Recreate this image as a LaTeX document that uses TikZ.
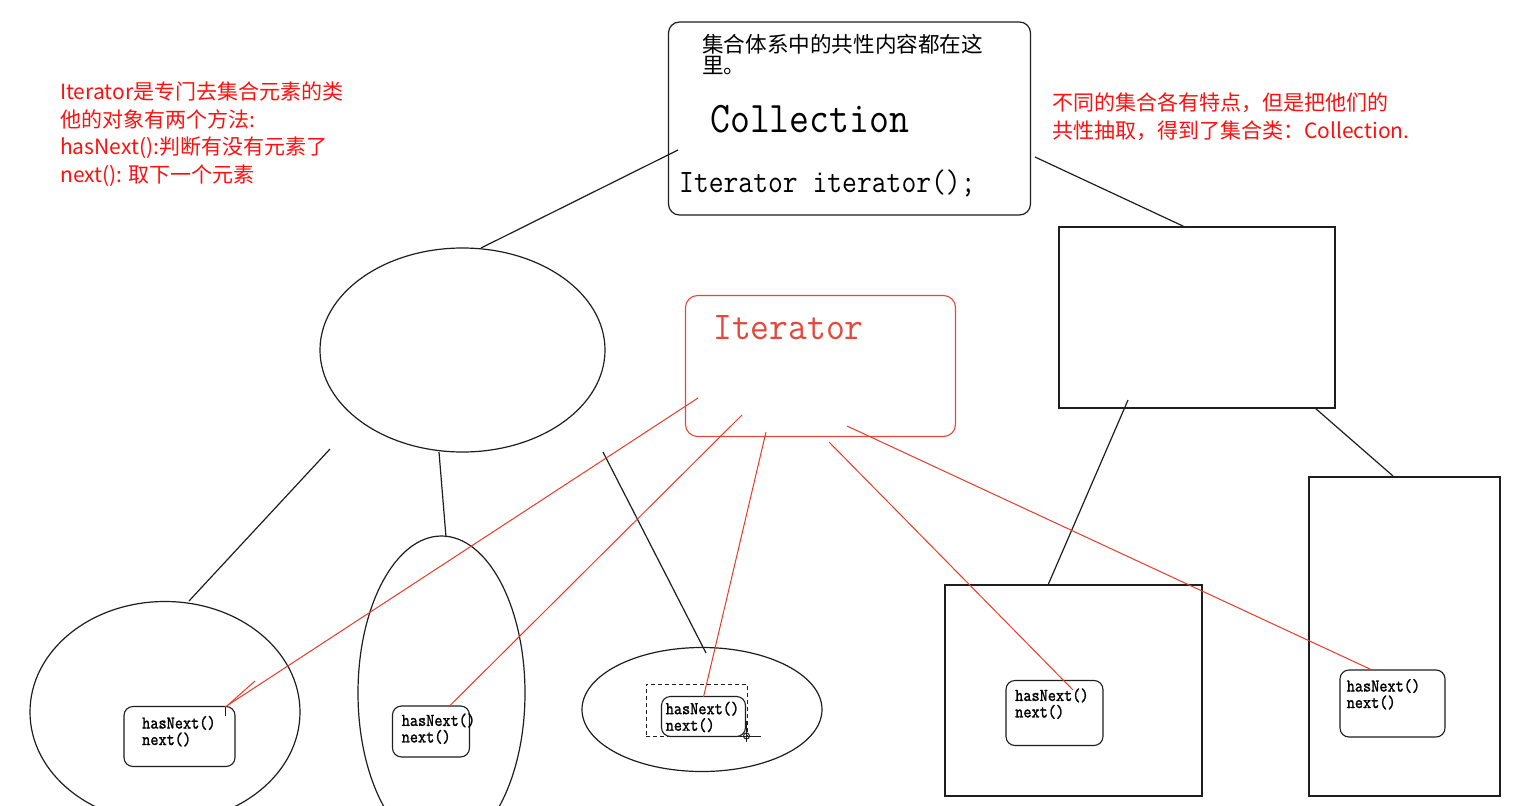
\documentclass[tikz,border=0pt]{standalone}
\usepackage{fontspec}
\usepackage{graphicx}
\newfontfamily\cjk{Noto Sans CJK SC}
\newfontfamily\monob{Latin Modern Mono}[FakeBold=1.5]
\usetikzlibrary{shapes.geometric}
\definecolor{annred}{RGB}{255,16,16}
\definecolor{linered}{RGB}{232,58,40}
\definecolor{boxred}{RGB}{228,72,60}
\definecolor{ink}{RGB}{30,30,30}
\tikzset{
  blk/.style={draw=ink, line width=1.2pt},
  redline/.style={draw=linered, line width=1pt},
  rbox/.style={draw=ink, line width=1.2pt, rounded corners=11pt, inner sep=0pt},
  sqbox/.style={draw=ink, line width=1.2pt, inner sep=0pt},
  ell/.style={ellipse, draw=ink, line width=1.2pt, inner sep=0pt},
  lblbox/.style={draw=ink, line width=1.1pt, rounded corners=9pt, inner sep=0pt},
  lbl/.style={anchor=north west, inner sep=0pt, align=left,
     font={\fontsize{18}{16.5}\selectfont\monob\lineskiplimit=-30pt}},
  ann/.style={anchor=base west, inner sep=0pt, text=annred,
     font={\cjk\fontsize{21}{24}\selectfont}},
  annr/.style={anchor=base west, inner sep=0pt, text=annred,
     font={\cjk\fontsize{21}{24}\selectfont}},
}
\newcommand{\mt}[1]{\scalebox{0.88}[1]{#1}}
\begin{document}
\begin{tikzpicture}[x=1pt,y=-1pt]
\useasboundingbox[fill=white] (0,0) rectangle (1532,806);

% ---- Collection box
\node[rbox, minimum width=362pt, minimum height=193pt] (coll) at (849.5,118.5) {};
\node[anchor=base west, inner sep=0pt, font={\cjk\fontsize{21.6}{21}\selectfont}] (hdr1) at (702,52) {集合体系中的共性内容都在这};
\node[anchor=base west, inner sep=0pt, font={\cjk\fontsize{21.6}{21}\selectfont}] (hdr2) at (702,73) {里。};
\node[anchor=base west, inner sep=0pt, font={\fontsize{43.7}{44}\selectfont\ttfamily}] (colltxt) at (710,132) {\scalebox{0.885}[1]{Collection}};
\node[anchor=base west, inner sep=0pt, font={\fontsize{32.7}{33}\selectfont\ttfamily}] (itm) at (679,192) {\scalebox{0.88}[1]{Iterator iterator();}};

% ---- Iterator box
\node[draw=boxred, line width=1.1pt, rounded corners=12pt, inner sep=0pt, minimum width=270pt, minimum height=141pt] (itbox) at (820.5,366) {};
\node[anchor=base west, inner sep=0pt, text=boxred, font={\fontsize{39.3}{40}\selectfont\ttfamily}] (ittxt) at (713,339) {\scalebox{0.93}[1]{Iterator}};

% ---- annotations
\node[ann] (a1) at (60,99) {Iterator是专门去集合元素的类};
\node[ann] (a2) at (60,127) {他的对象有两个方法:};
\node[ann] (a3) at (60,154) {hasNext():判断有没有元素了};
\node[ann] (a4) at (60,182) {next(): 取下一个元素};
\node[annr] (b1) at (1052,110) {不同的集合各有特点，但是把他们的};
\node[annr] (b2) at (1052,138) {共性抽取，得到了集合类：Collection.};

% ---- shapes
\node[ell, minimum width=285pt, minimum height=204pt] (e1) at (462.5,350) {};
\node[ell, minimum width=270pt, minimum height=221pt] (e2) at (165,712) {};
\node[ell, minimum width=167pt, minimum height=314pt] (e3) at (441.5,693) {};
\node[ell, minimum width=240pt, minimum height=124pt] (e4) at (702,709.5) {};
\node[sqbox, minimum width=276pt, minimum height=181pt] (r1) at (1197,317.5) {};
\node[sqbox, minimum width=257pt, minimum height=211pt] (r2) at (1073.5,690.5) {};
\node[sqbox, minimum width=191pt, minimum height=319pt] (r3) at (1404.5,636.5) {};

% ---- small label boxes
\node[lblbox, minimum width=111pt, minimum height=60pt] (m1) at (179.5,736.5) {};
\node[lbl] (t1) at (142,715.8) {\mt{hasNext()}\\\mt{next()}};
\node[lblbox, minimum width=77pt, minimum height=51pt] (m2) at (431,731.5) {};
\node[lbl] (t2) at (401.5,713.2) {\mt{hasNext()}\\\mt{next()}};
\node[draw=ink, line width=1pt, dashed, dash pattern=on 4pt off 3pt, inner sep=0pt, minimum width=101pt, minimum height=52pt] (dsel) at (696.5,710) {};
\node[lblbox, minimum width=84pt, minimum height=40pt] (m3) at (703.5,716.5) {};
\node[lbl] (t3) at (665.5,701.5) {\mt{hasNext()}\\\mt{next()}};
\node[lblbox, minimum width=97pt, minimum height=65pt] (m4) at (1054.5,713) {};
\node[lbl] (t4) at (1015,688.2) {\mt{hasNext()}\\\mt{next()}};
\node[lblbox, minimum width=105pt, minimum height=67pt] (m5) at (1392.5,703.5) {};
\node[lbl] (t5) at (1346.5,678.8) {\mt{hasNext()}\\\mt{next()}};

% crosshair cursor
\coordinate (cur) at (746.5,736);
\draw[ink, line width=1pt] (cur) circle (3pt);
\draw[ink, line width=1pt] ([xshift=-18pt]cur) -- ([xshift=14pt]cur);
\draw[ink, line width=1pt] ([yshift=-6pt]cur) -- ([yshift=15pt]cur);

% ---- black connectors
\coordinate (c1a) at (678,150); \coordinate (c1b) at (481,248);
\coordinate (c2a) at (1035,157); \coordinate (c2b) at (1185,227);
\coordinate (c3a) at (330,449); \coordinate (c3b) at (189,601);
\coordinate (c4a) at (439,452); \coordinate (c4b) at (446,537);
\coordinate (c5a) at (603,452); \coordinate (c5b) at (706,653);
\coordinate (c6a) at (1128,400); \coordinate (c6b) at (1048,585);
\coordinate (c7a) at (1315,408); \coordinate (c7b) at (1393,476);
\draw[blk] (c1a) -- (c1b);
\draw[blk] (c2a) -- (c2b);
\draw[blk] (c3a) -- (c3b);
\draw[blk] (c4a) -- (c4b);
\draw[blk] (c5a) -- (c5b);
\draw[blk] (c6a) -- (c6b);
\draw[blk] (c7a) -- (c7b);

% ---- red connectors
\coordinate (r1a) at (698,398); \coordinate (r1b) at (225,707);
\coordinate (r1c) at (255,681); \coordinate (r1d) at (228,705);
\coordinate (r2a) at (742,415); \coordinate (r2b) at (448.5,707);
\coordinate (r3a) at (766,432); \coordinate (r3b) at (703.5,697);
\coordinate (r4a) at (829,442); \coordinate (r4b) at (1073,690);
\coordinate (r5a) at (847,426); \coordinate (r5b) at (1372,670);
\draw[redline] (r1a) -- (r1b);
\draw[redline] (r1c) -- (r1d);
\draw[redline] (r2a) -- (r2b);
\draw[redline] (r3a) -- (r3b);
\draw[redline] (r4a) -- (r4b);
\draw[redline] (r5a) -- (r5b);
\draw[ink, line width=1pt] (225,707) -- (225,716);
\end{tikzpicture}
\end{document}
